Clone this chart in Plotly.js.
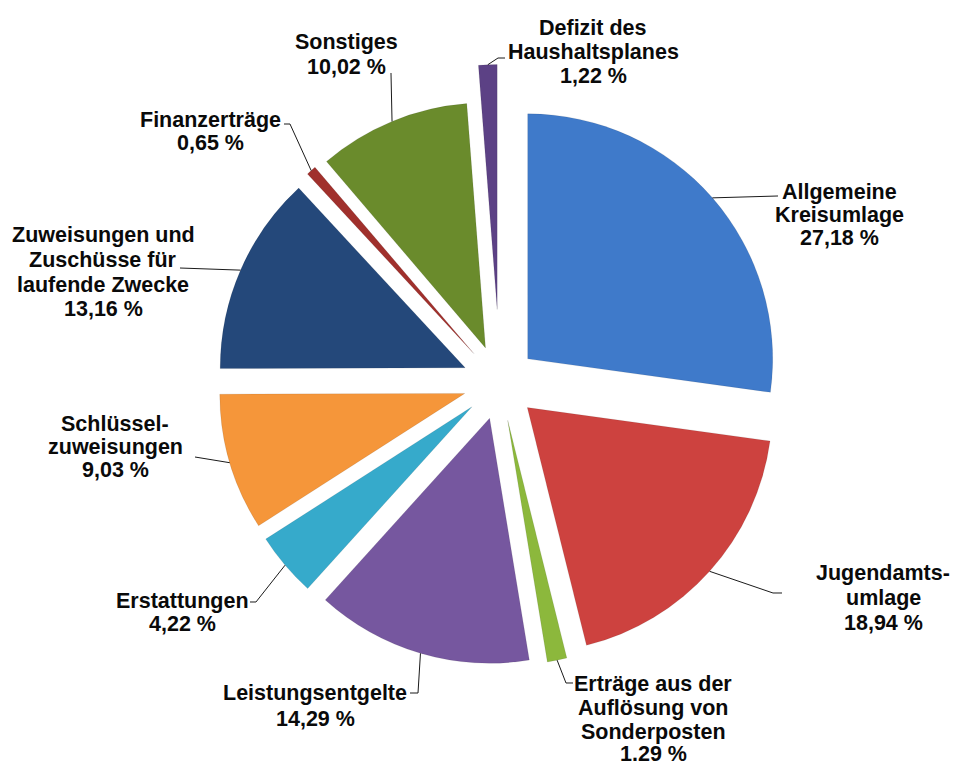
<!DOCTYPE html>
<html><head><meta charset="utf-8">
<script src="https://cdn.plot.ly/plotly-3.0.1.min.js"></script>
<style>html,body{margin:0;padding:0;background:#fff}#chart{width:955px;height:766px}</style>
</head><body><div id="chart"></div>
<script>
// ---- data ----
const categories = ["Allgemeine Kreisumlage", "Jugendamtsumlage", "Erträge aus der Auflösung von Sonderposten",
  "Leistungsentgelte", "Erstattungen", "Schlüsselzuweisungen",
  "Zuweisungen und Zuschüsse für laufende Zwecke", "Finanzerträge", "Sonstiges", "Defizit des Haushaltsplanes"];
const values = [27.18, 18.94, 1.29, 14.29, 4.22, 9.03, 13.16, 0.65, 10.02, 1.22];
const labelLines = [
  ["Allgemeine", "Kreisumlage", "27,18 %"],
  ["Jugendamts-", "umlage", "18,94 %"],
  ["Erträge aus der", "Auflösung von", "Sonderposten", "1.29 %"],
  ["Leistungsentgelte", "14,29 %"],
  ["Erstattungen", "4,22 %"],
  ["Schlüssel-", "zuweisungen", "9,03 %"],
  ["Zuweisungen und", "Zuschüsse für", "laufende Zwecke", "13,16 %"],
  ["Finanzerträge", "0,65 %"],
  ["Sonstiges", "10,02 %"],
  ["Defizit des", "Haushaltsplanes", "1,22 %"]
];

// ---- styles / layout ----
const colors = ["#3F7ACA", "#CD423F", "#8CB83C", "#76579F", "#36AACB", "#F5963A",
  "#24487A", "#A0302C", "#6A8B2C", "#5C4185"];
const pulls = [0.15, 0.15, 0.155, 0.15, 0.15, 0.15, 0.155, 0.16, 0.155, 0.30];

const W = 955, H = 766, CX = 500, CY = 383, R = 245;
const maxPull = Math.max(...pulls);
const D = 2 * R * (1 + maxPull);

// label placement (pixels): centre x, line centres y, leader path after the slice anchor
const labelPos = [
  {x: 839, ys: [192, 215, 238], path: [[778, 196]]},
  {x: 883, ys: [573, 598, 623], path: [[773, 593], [782, 593]]},
  {x: 653, ys: [684, 708, 732, 754], path: [[566, 683], [573, 683]]},
  {x: 315, ys: [693, 719], path: [[418, 693], [410, 693]]},
  {x: 182, ys: [601, 624], path: [[256, 602], [250, 602]]},
  {x: 115, ys: [424, 447, 470], path: [[195, 457]]},
  {x: 103, ys: [235, 260, 285, 309], path: [[180, 268]]},
  {x: 210, ys: [120, 143], path: [[290, 124], [284, 124]]},
  {x: 346, ys: [42, 67], path: [[391, 73]]},
  {x: 593, ys: [28, 52, 76], path: [[498, 58], [505, 58]]}
];

const px = x => x / W;
const py = y => 1 - y / H;

const total = values.reduce((a, b) => a + b, 0);
const annotations = [];
const shapes = [];
let cum = 0;
values.forEach((v, i) => {
  const mid = 2 * Math.PI * (cum + v / 2) / total;
  cum += v;
  const rr = R * (1 + pulls[i]);
  const ax = CX + rr * Math.sin(mid);
  const ay = CY - rr * Math.cos(mid);
  const pts = [[ax, ay]].concat(labelPos[i].path);
  const d = pts.map((p, k) => (k ? 'L' : 'M') + px(p[0]).toFixed(5) + ',' + py(p[1]).toFixed(5)).join(' ');
  shapes.push({type: 'path', xref: 'paper', yref: 'paper', path: d,
    line: {color: '#1a1a1a', width: 1}});
  labelLines[i].forEach((t, k) => {
    annotations.push({
      xref: 'paper', yref: 'paper', x: px(labelPos[i].x), y: py(labelPos[i].ys[k]),
      xanchor: 'center', yanchor: 'middle', showarrow: false,
      text: '<b>' + t + '</b>',
      font: {family: 'Liberation Sans, Arial, sans-serif', size: 21.5, color: '#0a0a0a'}
    });
  });
});

const trace = {
  type: 'pie',
  labels: categories,
  values: values,
  sort: false,
  direction: 'clockwise',
  rotation: 0,
  pull: pulls,
  textinfo: 'none',
  hoverinfo: 'label+percent',
  marker: {colors: colors, line: {color: 'rgba(0,0,0,0.15)', width: 0.6}},
  domain: {x: [(CX - D / 2) / W, (CX + D / 2) / W], y: [1 - (CY + D / 2) / H, 1 - (CY - D / 2) / H]},
  showlegend: false
};

const layout = {
  width: W, height: H,
  margin: {l: 0, r: 0, t: 0, b: 0},
  paper_bgcolor: '#ffffff',
  showlegend: false,
  annotations: annotations,
  shapes: shapes
};

Plotly.newPlot('chart', [trace], layout, {displayModeBar: false, staticPlot: true});
</script>
</body></html>
